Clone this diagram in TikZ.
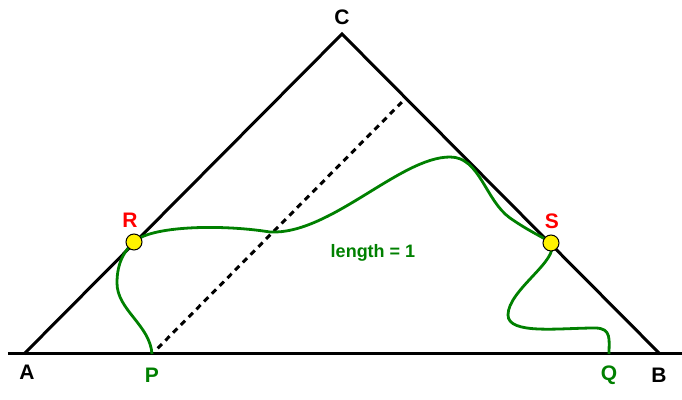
\documentclass[tikz,border=0pt]{standalone}
\usepackage{fontspec}
\setsansfont{Liberation Sans}
\usepackage{xcolor}
\usetikzlibrary{arrows,shapes,positioning,calc}
\definecolor{pathgreen}{RGB}{0,128,0}

\begin{document}
\begin{tikzpicture}[x=0.5pt,y=-0.5pt,
  side/.style={line width=1.5pt,black},
  lbl/.style={font=\sffamily\bfseries\fontsize{10.5}{12}\selectfont},
  dot/.style={circle,draw=black,line width=0.5pt,fill=yellow,inner sep=0pt,minimum size=8pt}]
\useasboundingbox (0,0) rectangle (682,400);
\coordinate (A) at (24,354);
\coordinate (B) at (660,354);
\coordinate (C) at (342,34);
\coordinate (P) at (152,354);
\coordinate (Q) at (609,354);
\coordinate (D) at (406,98);
\coordinate (baseL) at (8,354);
\coordinate (baseR) at (682,354);
% triangle and base line
\draw[side] (baseL) -- (baseR);
\draw[side,line join=miter] (A) -- (C) -- (B);
\draw[side,dash pattern=on 3pt off 2.5pt,shorten <=4pt,shorten >=3pt] (P) -- (D);
% the path of length 1
\draw[pathgreen,line width=1.4pt] (P) .. controls (150,325) and (117,310) .. (117,283)
  .. controls (117,262) and (125,250) .. (134,242)
  .. controls (150,226) and (220,224) .. (270,232)
  .. controls (330,235) and (400,157) .. (450,157)
  .. controls (480,157) and (485,200) .. (510,218)
  .. controls (530,232) and (545,238) .. (551,243)
  .. controls (560,260) and (508,290) .. (508,315)
  .. controls (508,335) and (560,328) .. (595,328)
  .. controls (612,328) and (609,340) .. (Q);
\node[dot] (R) at (134,242) {};
\node[dot] (S) at (551,243) {};
% labels
\node[lbl] (labC) at (342,17) {C};
\node[lbl] (labA) at (27,372) {A};
\node[lbl] (labB) at (659,375) {B};
\node[lbl,pathgreen] (labP) at (152,375) {P};
\node[lbl,pathgreen] (labQ) at (609,375) {Q};
\node[lbl,red] (labR) at (130,220) {R};
\node[lbl,red] (labS) at (552,221) {S};
\node[font=\sffamily\bfseries\fontsize{9}{11}\selectfont,pathgreen] (len) at (373,253) {length = 1};
\end{tikzpicture}
\end{document}
